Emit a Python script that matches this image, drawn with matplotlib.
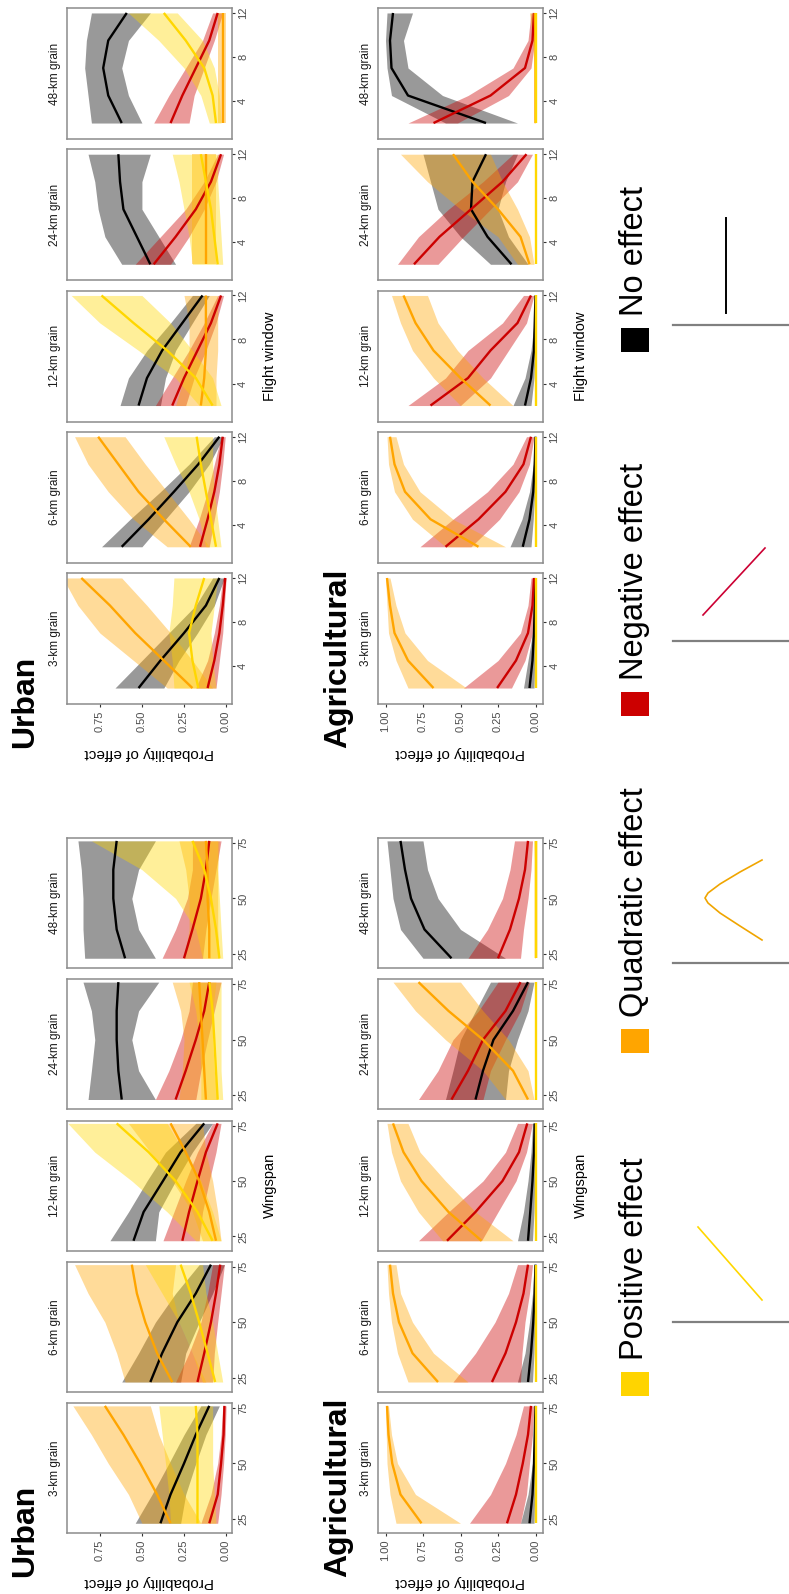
import matplotlib.pyplot as plt
from matplotlib.patches import Rectangle

plt.rcParams['font.family'] = ['Liberation Sans', 'DejaVu Sans']

W, H = 789, 1594

grains = ['3-km grain', '6-km grain', '12-km grain', '24-km grain', '48-km grain']
wing_x = [23, 36, 50, 63, 76]
flight_x = [2, 4.5, 7, 9.5, 12]

# effect colours: positive, quadratic, negative, none
colors = {'pos': '#FFD700', 'quad': '#FFA500', 'neg': '#CC0000', 'none': '#000000'}
legend_labels = ['Positive effect', 'Quadratic effect', 'Negative effect', 'No effect']
legend_keys = ['pos', 'quad', 'neg', 'none']

# ---- Urban, wingspan (rows = grain, cols = wing_x) ----
urban_wing_none = {
    'mid': [[0.39, 0.33, 0.25, 0.18, 0.10], [0.45, 0.38, 0.29, 0.18, 0.09], [0.55, 0.49, 0.375, 0.27, 0.13],
            [0.62, 0.64, 0.65, 0.65, 0.64], [0.60, 0.65, 0.67, 0.67, 0.65]],
    'lo': [[0.27, 0.24, 0.18, 0.12, 0.04], [0.27, 0.24, 0.16, 0.08, 0.01], [0.42, 0.40, 0.30, 0.20, 0.08],
           [0.42, 0.52, 0.56, 0.52, 0.40], [0.42, 0.52, 0.56, 0.52, 0.42]],
    'hi': [[0.54, 0.44, 0.34, 0.25, 0.15], [0.62, 0.52, 0.42, 0.30, 0.16], [0.69, 0.58, 0.47, 0.36, 0.18],
           [0.82, 0.80, 0.78, 0.80, 0.85], [0.84, 0.85, 0.85, 0.86, 0.88]],
}
urban_wing_quad = {
    'mid': [[0.33, 0.41, 0.51, 0.61, 0.72], [0.32, 0.41, 0.48, 0.53, 0.56], [0.06, 0.10, 0.16, 0.24, 0.33],
            [0.12, 0.13, 0.14, 0.15, 0.16], [0.10, 0.10, 0.11, 0.11, 0.12]],
    'lo': [[0.15, 0.25, 0.33, 0.40, 0.45], [0.12, 0.20, 0.28, 0.32, 0.30], [0.03, 0.05, 0.08, 0.12, 0.14],
           [0.05, 0.07, 0.08, 0.08, 0.06], [0.04, 0.05, 0.05, 0.05, 0.04]],
    'hi': [[0.50, 0.58, 0.70, 0.80, 0.91], [0.60, 0.65, 0.72, 0.82, 0.90], [0.14, 0.20, 0.32, 0.45, 0.58],
           [0.28, 0.26, 0.25, 0.27, 0.32], [0.25, 0.22, 0.22, 0.24, 0.28]],
}
urban_wing_pos = {
    'mid': [[0.17, 0.17, 0.17, 0.17, 0.18], [0.065, 0.11, 0.16, 0.21, 0.27], [0.08, 0.17, 0.30, 0.46, 0.65],
            [0.05, 0.06, 0.07, 0.08, 0.10], [0.04, 0.06, 0.09, 0.13, 0.20]],
    'lo': [[0.06, 0.07, 0.08, 0.08, 0.08], [0.02, 0.05, 0.08, 0.12, 0.14], [0.03, 0.08, 0.15, 0.25, 0.35],
           [0.02, 0.03, 0.03, 0.03, 0.03], [0.02, 0.03, 0.04, 0.05, 0.05]],
    'hi': [[0.33, 0.34, 0.36, 0.38, 0.40], [0.14, 0.20, 0.28, 0.38, 0.48], [0.18, 0.35, 0.56, 0.78, 0.94],
           [0.15, 0.15, 0.16, 0.18, 0.22], [0.14, 0.18, 0.30, 0.50, 0.80]],
}
urban_wing_neg = {
    'mid': [[0.10, 0.05, 0.03, 0.015, 0.01], [0.17, 0.13, 0.09, 0.06, 0.035], [0.26, 0.22, 0.17, 0.12, 0.05],
            [0.30, 0.24, 0.18, 0.13, 0.10], [0.25, 0.20, 0.15, 0.12, 0.10]],
    'lo': [[0.05, 0.03, 0.015, 0.005, 0.0], [0.08, 0.07, 0.05, 0.03, 0.01], [0.16, 0.14, 0.10, 0.06, 0.03],
           [0.18, 0.15, 0.11, 0.07, 0.03], [0.14, 0.12, 0.09, 0.06, 0.03]],
    'hi': [[0.15, 0.09, 0.05, 0.03, 0.02], [0.30, 0.22, 0.15, 0.11, 0.08], [0.375, 0.31, 0.24, 0.17, 0.08],
           [0.42, 0.34, 0.27, 0.22, 0.20], [0.38, 0.30, 0.23, 0.20, 0.20]],
}

# ---- Urban, flight window ----
urban_flight_none = {
    'mid': [[0.52, 0.39, 0.25, 0.12, 0.04], [0.62, 0.46, 0.31, 0.165, 0.04], [0.52, 0.47, 0.38, 0.26, 0.14],
            [0.45, 0.53, 0.61, 0.63, 0.64], [0.62, 0.70, 0.73, 0.70, 0.59]],
    'lo': [[0.37, 0.28, 0.17, 0.07, 0.01], [0.50, 0.36, 0.22, 0.10, 0.015], [0.39, 0.36, 0.30, 0.20, 0.10],
           [0.30, 0.40, 0.50, 0.50, 0.45], [0.50, 0.58, 0.62, 0.58, 0.45]],
    'hi': [[0.66, 0.50, 0.34, 0.18, 0.08], [0.74, 0.57, 0.39, 0.22, 0.07], [0.63, 0.58, 0.47, 0.33, 0.20],
           [0.62, 0.72, 0.76, 0.78, 0.82], [0.80, 0.82, 0.84, 0.83, 0.80]],
}
urban_flight_quad = {
    'mid': [[0.20, 0.37, 0.54, 0.69, 0.86], [0.21, 0.37, 0.52, 0.64, 0.76], [0.15, 0.13, 0.12, 0.12, 0.12],
            [0.12, 0.12, 0.12, 0.12, 0.12], [0.02, 0.02, 0.02, 0.02, 0.02]],
    'lo': [[0.08, 0.20, 0.33, 0.47, 0.62], [0.10, 0.22, 0.35, 0.48, 0.60], [0.06, 0.06, 0.05, 0.05, 0.05],
           [0.06, 0.06, 0.06, 0.06, 0.06], [0.0, 0.0, 0.0, 0.0, 0.0]],
    'hi': [[0.35, 0.55, 0.75, 0.88, 0.97], [0.35, 0.55, 0.70, 0.82, 0.90], [0.30, 0.25, 0.22, 0.22, 0.25],
           [0.20, 0.20, 0.20, 0.20, 0.20], [0.05, 0.05, 0.05, 0.05, 0.05]],
}
urban_flight_pos = {
    'mid': [[0.165, 0.20, 0.22, 0.18, 0.13], [0.06, 0.09, 0.12, 0.15, 0.175], [0.08, 0.18, 0.35, 0.55, 0.74],
            [0.05, 0.07, 0.09, 0.12, 0.15], [0.06, 0.08, 0.13, 0.24, 0.37]],
    'lo': [[0.06, 0.08, 0.09, 0.07, 0.05], [0.03, 0.05, 0.07, 0.08, 0.08], [0.03, 0.08, 0.20, 0.33, 0.50],
           [0.02, 0.03, 0.04, 0.05, 0.05], [0.03, 0.04, 0.07, 0.14, 0.29]],
    'hi': [[0.31, 0.32, 0.34, 0.32, 0.31], [0.12, 0.16, 0.22, 0.30, 0.37], [0.16, 0.30, 0.52, 0.75, 0.92],
           [0.20, 0.22, 0.25, 0.28, 0.32], [0.10, 0.15, 0.25, 0.40, 0.58]],
}
urban_flight_neg = {
    'mid': [[0.11, 0.07, 0.04, 0.02, 0.005], [0.155, 0.11, 0.07, 0.04, 0.02], [0.32, 0.25, 0.17, 0.09, 0.03],
            [0.43, 0.30, 0.18, 0.09, 0.03], [0.33, 0.26, 0.18, 0.10, 0.05]],
    'lo': [[0.06, 0.04, 0.02, 0.01, 0.0], [0.10, 0.07, 0.04, 0.02, 0.005], [0.24, 0.19, 0.12, 0.06, 0.015],
           [0.33, 0.22, 0.13, 0.06, 0.015], [0.22, 0.19, 0.13, 0.07, 0.02]],
    'hi': [[0.18, 0.11, 0.07, 0.04, 0.02], [0.22, 0.16, 0.11, 0.07, 0.03], [0.42, 0.32, 0.22, 0.13, 0.05],
           [0.54, 0.39, 0.24, 0.13, 0.05], [0.43, 0.34, 0.24, 0.14, 0.08]],
}

# ---- Agricultural, wingspan ----
agri_wing_none = {
    'mid': [[0.04, 0.02, 0.01, 0.005, 0.0], [0.05, 0.03, 0.015, 0.005, 0.0], [0.05, 0.035, 0.02, 0.01, 0.005],
            [0.40, 0.35, 0.28, 0.15, 0.05], [0.56, 0.74, 0.83, 0.87, 0.90]],
    'lo': [[0.01, 0.005, 0.0, 0.0, 0.0], [0.02, 0.01, 0.005, 0.0, 0.0], [0.02, 0.01, 0.005, 0.0, 0.0],
           [0.20, 0.18, 0.12, 0.05, 0.01], [0.20, 0.50, 0.65, 0.72, 0.75]],
    'hi': [[0.10, 0.05, 0.02, 0.01, 0.005], [0.12, 0.07, 0.04, 0.02, 0.01], [0.12, 0.08, 0.05, 0.03, 0.02],
           [0.60, 0.55, 0.50, 0.40, 0.30], [0.75, 0.90, 0.95, 0.97, 0.99]],
}
agri_wing_quad = {
    'mid': [[0.76, 0.90, 0.955, 0.98, 0.99], [0.65, 0.82, 0.91, 0.95, 0.97], [0.36, 0.58, 0.76, 0.88, 0.95],
            [0.05, 0.15, 0.35, 0.58, 0.78], [0.0, 0.0, 0.0, 0.0, 0.0]],
    'lo': [[0.50, 0.80, 0.92, 0.96, 0.98], [0.45, 0.68, 0.82, 0.90, 0.93], [0.15, 0.40, 0.60, 0.77, 0.85],
           [0.01, 0.05, 0.18, 0.35, 0.50], [0.0, 0.0, 0.0, 0.0, 0.0]],
    'hi': [[0.93, 0.97, 0.99, 0.995, 1.0], [0.85, 0.92, 0.96, 0.98, 0.99], [0.62, 0.78, 0.90, 0.96, 0.99],
           [0.20, 0.35, 0.60, 0.80, 0.95], [0.005, 0.005, 0.005, 0.005, 0.01]],
}
agri_wing_pos = {
    'mid': [[0.0] * 5] * 5,
    'lo': [[0.0] * 5] * 5,
    'hi': [[0.005] * 5] * 5,
}
agri_wing_neg = {
    'mid': [[0.19, 0.13, 0.085, 0.05, 0.03], [0.29, 0.20, 0.13, 0.08, 0.05], [0.59, 0.40, 0.22, 0.11, 0.055],
            [0.56, 0.45, 0.35, 0.20, 0.10], [0.25, 0.17, 0.11, 0.07, 0.05]],
    'lo': [[0.10, 0.06, 0.04, 0.02, 0.01], [0.10, 0.09, 0.07, 0.04, 0.02], [0.36, 0.25, 0.13, 0.06, 0.02],
           [0.35, 0.30, 0.20, 0.10, 0.04], [0.10, 0.08, 0.05, 0.03, 0.02]],
    'hi': [[0.44, 0.30, 0.20, 0.13, 0.08], [0.55, 0.40, 0.27, 0.18, 0.12], [0.78, 0.58, 0.35, 0.20, 0.12],
           [0.78, 0.65, 0.55, 0.38, 0.25], [0.45, 0.32, 0.22, 0.17, 0.14]],
}

# ---- Agricultural, flight window ----
agri_flight_none = {
    'mid': [[0.04, 0.02, 0.01, 0.005, 0.0], [0.085, 0.04, 0.015, 0.005, 0.0], [0.07, 0.03, 0.01, 0.005, 0.0],
            [0.16, 0.32, 0.43, 0.42, 0.33], [0.33, 0.85, 0.96, 0.97, 0.95]],
    'lo': [[0.01, 0.005, 0.0, 0.0, 0.0], [0.03, 0.015, 0.005, 0.0, 0.0], [0.03, 0.01, 0.003, 0.0, 0.0],
           [0.05, 0.18, 0.25, 0.20, 0.12], [0.12, 0.62, 0.85, 0.88, 0.82]],
    'hi': [[0.08, 0.05, 0.02, 0.01, 0.005], [0.17, 0.09, 0.04, 0.015, 0.005], [0.15, 0.07, 0.03, 0.01, 0.005],
           [0.30, 0.50, 0.65, 0.70, 0.75], [0.60, 0.96, 0.99, 1.0, 0.99]],
}
agri_flight_quad = {
    'mid': [[0.68, 0.85, 0.94, 0.97, 0.99], [0.38, 0.70, 0.87, 0.94, 0.97], [0.30, 0.50, 0.68, 0.80, 0.88],
            [0.04, 0.10, 0.25, 0.42, 0.55], [0.0, 0.0, 0.0, 0.0, 0.005]],
    'lo': [[0.46, 0.72, 0.87, 0.93, 0.97], [0.20, 0.55, 0.77, 0.88, 0.93], [0.15, 0.35, 0.52, 0.65, 0.72],
           [0.01, 0.04, 0.12, 0.22, 0.30], [0.0, 0.0, 0.0, 0.0, 0.0]],
    'hi': [[0.85, 0.93, 0.98, 0.99, 1.0], [0.60, 0.82, 0.94, 0.98, 0.99], [0.50, 0.68, 0.82, 0.90, 0.96],
           [0.12, 0.25, 0.50, 0.72, 0.90], [0.01, 0.01, 0.01, 0.02, 0.04]],
}
agri_flight_pos = {
    'mid': [[0.0] * 5] * 5,
    'lo': [[0.0] * 5] * 5,
    'hi': [[0.005] * 5] * 5,
}
agri_flight_neg = {
    'mid': [[0.256, 0.13, 0.05, 0.02, 0.01], [0.60, 0.38, 0.20, 0.08, 0.03], [0.70, 0.45, 0.30, 0.12, 0.03],
            [0.81, 0.64, 0.43, 0.22, 0.06], [0.68, 0.30, 0.07, 0.02, 0.01]],
    'lo': [[0.16, 0.07, 0.02, 0.005, 0.0], [0.43, 0.24, 0.11, 0.04, 0.01], [0.50, 0.30, 0.18, 0.06, 0.01],
           [0.65, 0.48, 0.30, 0.12, 0.02], [0.52, 0.18, 0.03, 0.005, 0.0]],
    'hi': [[0.48, 0.25, 0.10, 0.05, 0.03], [0.77, 0.55, 0.32, 0.15, 0.06], [0.85, 0.60, 0.45, 0.22, 0.08],
           [0.92, 0.78, 0.58, 0.35, 0.15], [0.85, 0.45, 0.15, 0.05, 0.03]],
}

# legend sketches (pixel coordinates of the little effect-shape icons)
legend_axis_y = [1322, 963, 641, 325]
legend_pos_line = ([698, 762], [1227, 1300])
legend_neg_line = ([703, 765], [615, 548])
legend_none_line = ([726, 726], [218, 313])
legend_quad_line = ([762, 740, 720, 708, 705, 708, 720, 740, 762],
                    [860, 872, 884, 893, 898, 903, 913, 926, 940])

sections = [
    # habitat, x label, x values, ylim, ticks, panel x-range (px), bottom panel y-range (px),
    # probability limits, probability ticks, data
    ('Urban', 'Flight window', flight_x, (0.55, 12.45), [4, 8, 12], (67, 232), (573, 704),
     (0.945, -0.035), [0, 0.25, 0.5, 0.75],
     {'none': urban_flight_none, 'neg': urban_flight_neg, 'pos': urban_flight_pos, 'quad': urban_flight_quad}),
    ('Agricultural', 'Flight window', flight_x, (0.55, 12.45), [4, 8, 12], (378, 543), (573, 704),
     (1.05, -0.05), [0, 0.25, 0.5, 0.75, 1.0],
     {'none': agri_flight_none, 'neg': agri_flight_neg, 'pos': agri_flight_pos, 'quad': agri_flight_quad}),
    ('Urban', 'Wingspan', wing_x, (18.6, 77.3), [25, 50, 75], (67, 232), (1403, 1533),
     (0.945, -0.035), [0, 0.25, 0.5, 0.75],
     {'none': urban_wing_none, 'neg': urban_wing_neg, 'pos': urban_wing_pos, 'quad': urban_wing_quad}),
    ('Agricultural', 'Wingspan', wing_x, (18.6, 77.3), [25, 50, 75], (378, 543), (1403, 1533),
     (1.05, -0.05), [0, 0.25, 0.5, 0.75, 1.0],
     {'none': agri_wing_none, 'neg': agri_wing_neg, 'pos': agri_wing_pos, 'quad': agri_wing_quad}),
]

pitch = 141.25
draw_order = ['none', 'neg', 'quad', 'pos']

fig = plt.figure(figsize=(W / 100, H / 100), dpi=100)

# full-figure overlay in pixel units for titles, axis labels and legend
ov = fig.add_axes([0, 0, 1, 1])
ov.set_xlim(0, W)
ov.set_ylim(H, 0)
ov.axis('off')

for habitat, xlabel, xs, ylim, yticks, (px0, px1), (py0, py1), plim, pticks, data in sections:
    for g, grain in enumerate(grains):
        top = py0 - pitch * g
        bot = py1 - pitch * g
        ax = fig.add_axes([px0 / W, 1 - bot / H, (px1 - px0) / W, (bot - top) / H])
        for key in draw_order:
            d = data[key]
            ax.fill_betweenx(xs, d['lo'][g], d['hi'][g], color=colors[key], alpha=0.4, lw=0)
        for key in draw_order:
            d = data[key]
            ax.plot(d['mid'][g], xs, color=colors[key], lw=1.7, solid_capstyle='butt',
                    solid_joinstyle='round')
        ax.set_xlim(*plim)
        ax.set_ylim(*ylim)
        ax.yaxis.tick_right()
        ax.set_yticks(yticks)
        ax.set_yticklabels([str(t) for t in yticks], rotation=90, va='center')
        ax.tick_params(axis='y', length=2.5, width=0.8, pad=2, labelsize=8,
                       colors='#333333', labelcolor='#4D4D4D')
        if g == 0:
            ax.set_xticks(pticks)
            ax.set_xticklabels(['%.2f' % t for t in pticks], rotation=90, ha='center')
            ax.tick_params(axis='x', length=2.5, width=0.8, pad=2, labelsize=8,
                           colors='#333333', labelcolor='#4D4D4D')
        else:
            ax.set_xticks([])
        for s in ax.spines.values():
            s.set_color('#8C8C8C')
            s.set_linewidth(1.1)
        ov.text(px0 - 12, (top + bot) / 2, grain, rotation=90, ha='center', va='center',
                fontsize=8.5, color='#1A1A1A')

    cx = (px0 + px1) / 2
    title_x = 25 if habitat == 'Urban' else 338
    ov.text(title_x, py1 + 44, habitat, rotation=90, ha='center', va='bottom',
            fontsize=23, fontweight='bold', color='black')
    ov.text(cx, py1 + 49, 'Probability of effect', rotation=180, ha='center', va='center',
            fontsize=11, color='black')
    mid_row = (py0 + py1) / 2 - pitch * 2
    ov.text(px1 + 38, mid_row, xlabel, rotation=90, ha='center', va='center',
            fontsize=10.5, color='black')

# legend: coloured key, label, then the shape of each effect
legend_sq_y = [1384, 1041, 704, 340]
for key, label, sy, ay in zip(legend_keys, legend_labels, legend_sq_y, legend_axis_y):
    ov.add_patch(Rectangle((621, sy - 12), 28, 24, color=colors[key] if key != 'pos' else '#FFD400', lw=0))
    ov.text(635, sy - 24, label, rotation=90, ha='center', va='bottom', fontsize=23.5, color='black')
    ov.plot([673, W], [ay, ay], color='#808080', lw=1.6)

ov.plot(*legend_pos_line, color='#FFD700', lw=1.2)
ov.plot(*legend_quad_line, color='#F0A500', lw=1.2)
ov.plot(*legend_neg_line, color='#CC0033', lw=1.2)
ov.plot(*legend_none_line, color='black', lw=1.4)

fig.savefig('out.png', dpi=100, facecolor='white')
